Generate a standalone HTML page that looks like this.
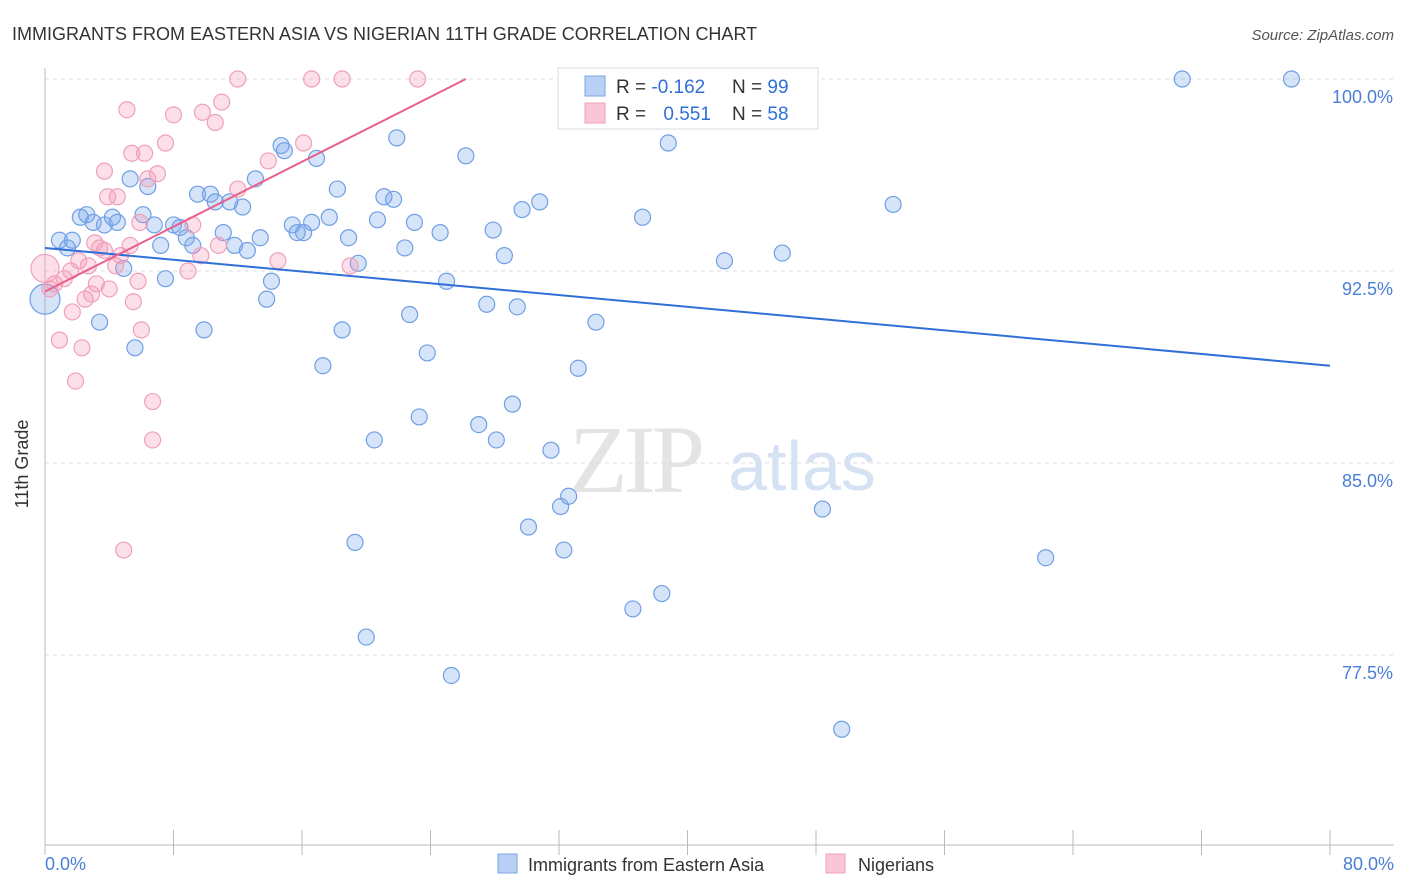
<!DOCTYPE html>
<html><head><meta charset="utf-8"><style>
body{margin:0;background:#fff;font-family:"Liberation Sans",sans-serif;}
svg{display:block}
</style></head><body>
<svg id="chart" width="1406" height="892" viewBox="0 0 1406 892">
<text x="12" y="40" font-size="18" fill="#333">IMMIGRANTS FROM EASTERN ASIA VS NIGERIAN 11TH GRADE CORRELATION CHART</text>
<text x="1394" y="40" font-size="15" fill="#555" font-style="italic" text-anchor="end">Source: ZipAtlas.com</text>
<g>
<text x="635" y="492" font-size="96" fill="#e4e4e4" text-anchor="middle" font-family="Liberation Serif,serif" letter-spacing="-4">ZIP</text>
<text x="802" y="490" font-size="70" fill="#d4e2f4" text-anchor="middle">atlas</text>
</g>
<g id="grid"></g>
<line x1="45" y1="68" x2="45" y2="845" stroke="#bbb"/>
<line x1="45" y1="845" x2="1394" y2="845" stroke="#bbb"/>
<g id="xticks"></g>
<text x="20" y="456" font-size="18" fill="#333" transform="rotate(-90 28 456)" text-anchor="middle">11th Grade</text>
<text x="45" y="870" font-size="18" fill="#4a7fd8">0.0%</text>
<text x="1394" y="870" font-size="18" fill="#4a7fd8" text-anchor="end">80.0%</text>
<g id="pts"></g>
<g id="trends"></g>
<g>
<rect x="558" y="68" width="260" height="61" fill="#fff" stroke="#ddd"/>
<rect x="585" y="76" width="20" height="20" fill="#b8d0f4" stroke="#7aa6e6"/>
<rect x="585" y="103" width="20" height="20" fill="#f9c6d6" stroke="#f0a0b8"/>
<text x="616" y="93" font-size="19" fill="#333">R = <tspan fill="#2f6fd6">-0.162</tspan></text>
<text x="732" y="93" font-size="19" fill="#333">N = <tspan fill="#2f6fd6">99</tspan></text>
<text x="616" y="120" font-size="19" fill="#333">R = <tspan fill="#2f6fd6" dx="12">0.551</tspan></text>
<text x="732" y="120" font-size="19" fill="#333">N = <tspan fill="#2f6fd6">58</tspan></text>
</g>
<g>
<rect x="498" y="854" width="19" height="19" fill="#b8d0f4" stroke="#7aa6e6"/>
<text x="528" y="871" font-size="18" fill="#333">Immigrants from Eastern Asia</text>
<rect x="826" y="854" width="19" height="19" fill="#f9c6d6" stroke="#f0a0b8"/>
<text x="858" y="871" font-size="18" fill="#333">Nigerians</text>
</g>
</svg>
<script>
const yTicks=[100,92.5,85,77.5];
const yTickLabels=["100.0%","92.5%","85.0%","77.5%"];
const xTicks=[0,8,16,24,32,40,48,56,64,72,80];
const blueX=[0.0,0.9,1.7,1.4,2.2,2.6,3.0,3.7,4.2,4.5,3.4,4.9,5.3,5.6,6.1,6.4,6.8,7.2,7.5,8.0,8.4,8.8,9.2,9.5,9.9,10.3,10.6,11.1,11.5,11.8,12.3,12.6,13.1,13.4,13.8,14.1,14.7,14.9,15.4,15.7,16.1,16.6,16.9,17.3,17.7,18.2,18.5,18.9,19.3,19.5,20.0,20.5,20.7,21.1,21.7,22.4,22.7,23.0,23.3,23.8,24.6,25.0,25.3,26.2,27.0,27.5,27.9,28.1,28.6,29.1,29.4,29.7,30.1,30.8,31.5,32.1,32.3,32.6,33.2,34.3,36.6,37.2,38.4,38.8,42.3,45.9,48.4,49.6,52.8,62.3,70.8,77.6,21.9,37.7,43.0];
const blueY=[91.4,93.7,93.7,93.4,94.6,94.7,94.4,94.3,94.6,94.4,90.5,92.6,96.1,89.5,94.7,95.8,94.3,93.5,92.2,94.3,94.2,93.8,93.5,95.5,90.2,95.5,95.2,94.0,95.2,93.5,95.0,93.3,96.1,93.8,91.4,92.1,97.4,97.2,94.3,94.0,94.0,94.4,96.9,88.8,94.6,95.7,90.2,93.8,81.9,92.8,78.2,85.9,94.5,95.4,95.3,93.4,90.8,94.4,86.8,89.3,94.0,92.1,76.7,97.0,86.5,91.2,94.1,85.9,93.1,87.3,91.1,94.9,82.5,95.2,85.5,83.3,81.6,83.7,88.7,90.5,79.3,94.6,79.9,97.5,92.9,93.2,83.2,74.6,95.1,81.3,100,100,97.7,100,100];
const pinkX=[0.0,0.3,0.6,0.9,1.2,1.6,1.7,1.9,2.3,2.5,2.7,2.9,3.2,3.4,3.7,3.9,4.0,4.4,4.5,4.9,5.1,5.4,5.5,5.8,6.0,6.2,6.4,6.7,6.7,7.0,7.5,8.0,8.9,9.2,9.7,9.8,10.6,10.8,11.0,12.0,12.0,13.9,14.5,16.1,16.6,18.5,19.0,23.2,5.9,5.3,4.7,3.7,3.1,2.1];
const pinkY=[92.6,91.8,92.0,89.8,92.2,92.5,90.9,88.2,89.5,91.4,92.7,91.6,92.0,93.4,96.4,95.4,91.8,92.7,95.4,81.6,98.8,97.1,91.3,92.1,90.2,97.1,96.1,87.4,85.9,96.3,97.5,98.6,92.5,94.3,93.1,98.7,98.3,93.5,99.1,100,95.7,96.8,92.9,97.5,100,100,92.7,100,94.4,93.5,93.1,93.3,93.6,92.9];
const blueTrendX=[0,80], blueTrendY=[93.4,88.8];
const pinkTrendX=[0,26.2], pinkTrendY=[91.7,100];
const sx=v=>45+v*1285/80;
const sy=v=>79+(100-v)*192/7.5;
const NS="http://www.w3.org/2000/svg";
function mk(tag,attrs,parent){const e=document.createElementNS(NS,tag);for(const k in attrs)e.setAttribute(k,attrs[k]);document.getElementById(parent).appendChild(e);return e;}
yTicks.forEach((t,i)=>{
 const l=mk('line',{x1:45,x2:1394,y1:sy(t),y2:sy(t),stroke:'#ddd','stroke-dasharray':'4 4'},'grid');
 
 
 const tx=mk('text',{x:1393,y:sy(t)+24,'font-size':18,fill:'#4a7fd8','text-anchor':'end'},'grid');
 tx.textContent=yTickLabels[i];
 
 
});
xTicks.forEach(t=>{
 const l=mk('line',{x1:sx(t),x2:sx(t),y1:830,y2:855,stroke:'#bbb'},'xticks');
 
 
});
function dot(x,y,r,fill,stroke,name){
 const c=mk('circle',{cx:sx(x),cy:sy(y),r:r,fill:fill,stroke:stroke,'stroke-width':1.2},'pts');
 
 
}
blueX.forEach((x,i)=>dot(x,blueY[i],i===0?15:8,'rgba(120,165,235,0.3)','#6f9fe4','point-eastern-asia'));
pinkX.forEach((x,i)=>dot(x,pinkY[i],i===0?14:8,'rgba(245,150,180,0.3)','#f0a0ba','point-nigerians'));
const bt=mk('line',{x1:sx(blueTrendX[0]),y1:sy(blueTrendY[0]),x2:sx(blueTrendX[1]),y2:sy(blueTrendY[1]),stroke:'#2f6fd6','stroke-width':2},'trends');


const pt=mk('line',{x1:sx(pinkTrendX[0]),y1:sy(pinkTrendY[0]),x2:sx(pinkTrendX[1]),y2:sy(pinkTrendY[1]),stroke:'#e8608c','stroke-width':2},'trends');


</script>
</body></html>
